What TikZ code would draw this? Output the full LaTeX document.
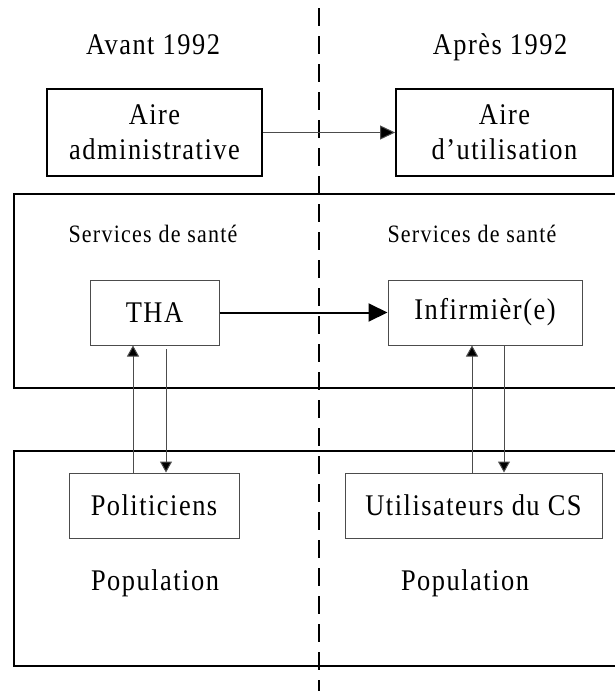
\documentclass[tikz,border=0pt]{standalone}
\usepackage{fontspec}
\setmainfont{Liberation Serif}[FakeStretch=0.88,LetterSpace=5]
\usetikzlibrary{arrows.meta}
\definecolor{boxgray}{gray}{0.3}
\begin{document}
\begin{tikzpicture}[x=1pt,y=-1pt,
  bigtxt/.style={font=\fontsize{30}{35}\selectfont},
  smalltxt/.style={font=\fontsize{25}{30}\selectfont},
  label/.style={bigtxt,anchor=base,inner sep=0pt},
  sublabel/.style={smalltxt,anchor=base,inner sep=0pt},
  topbox/.style={draw,line width=1.8pt,inner sep=0pt,bigtxt,align=center},
  smallbox/.style={draw=boxgray,line width=1pt,inner sep=0pt,bigtxt,align=center,minimum height=65pt},
  bigbox/.style={draw,line width=2pt},
  thinarrow/.style={draw=boxgray,line width=1pt,-{Triangle[length=15pt,width=14pt,fill=black]}},
  thickarrow/.style={draw,line width=2pt,-{Triangle[length=19pt,width=18pt]}},
  vert/.style={draw=boxgray,line width=1pt,-{Triangle[length=11pt,width=12pt,fill=black]}},
  vertplain/.style={draw=boxgray,line width=1pt},
  divider/.style={draw,line width=2pt,dash pattern=on 18pt off 10pt}
]
\useasboundingbox (0,0) rectangle (614,691);

% big panels
\draw[bigbox] (14,194) rectangle (640,388);
\draw[bigbox] (14,451) rectangle (640,666);

% divider
\coordinate (dtop) at (319,8);
\coordinate (dbot) at (319,695);
\draw[divider] (dtop) -- (dbot);

% headings
\node[label] (avant) at (153,54) {Avant 1992};
\node[label] (apres) at (500,54) {Après 1992};

% top boxes
\node[topbox,minimum width=215pt,minimum height=87pt] (aireA) at (154.5,132.5) {Aire\\administrative};
\node[topbox,minimum width=217pt,minimum height=87pt] (aireU) at (504.5,132.5) {Aire\\d’utilisation};
\draw[thinarrow] (aireA.east) -- (aireU.west);

% services
\node[sublabel] (svcA) at (153,242) {Services de santé};
\node[sublabel] (svcU) at (472,242) {Services de santé};

\node[smallbox,minimum width=129pt] (tha) at (154.5,312.5) {THA};
\node[smallbox,minimum width=194pt] (inf) at (485,312.5) {Infirmièr(e)};
\draw[thickarrow] (tha.east) -- (inf.west);

% population
\node[smallbox,minimum width=170pt] (pol) at (154,505.5) {Politiciens};
\node[smallbox,minimum width=257pt] (uti) at (473.5,505.5) {Utilisateurs du CS};
\node[label] (popA) at (155,590) {Population};
\node[label] (popU) at (465,590) {Population};

% vertical links
\coordinate (xa) at (133,0);
\coordinate (xb) at (166,0);
\coordinate (xc) at (472,0);
\coordinate (xd) at (504,0);
\coordinate (ya) at (0,349);
\draw[vert] (xa |- pol.north) -- (xa |- tha.south);
\draw[vert] (xb |- ya) -- (xb |- pol.north);
\draw[vert] (xc |- uti.north) -- (xc |- inf.south);
\draw[vert] (xd |- inf.south) -- (xd |- uti.north);
\end{tikzpicture}
\end{document}
